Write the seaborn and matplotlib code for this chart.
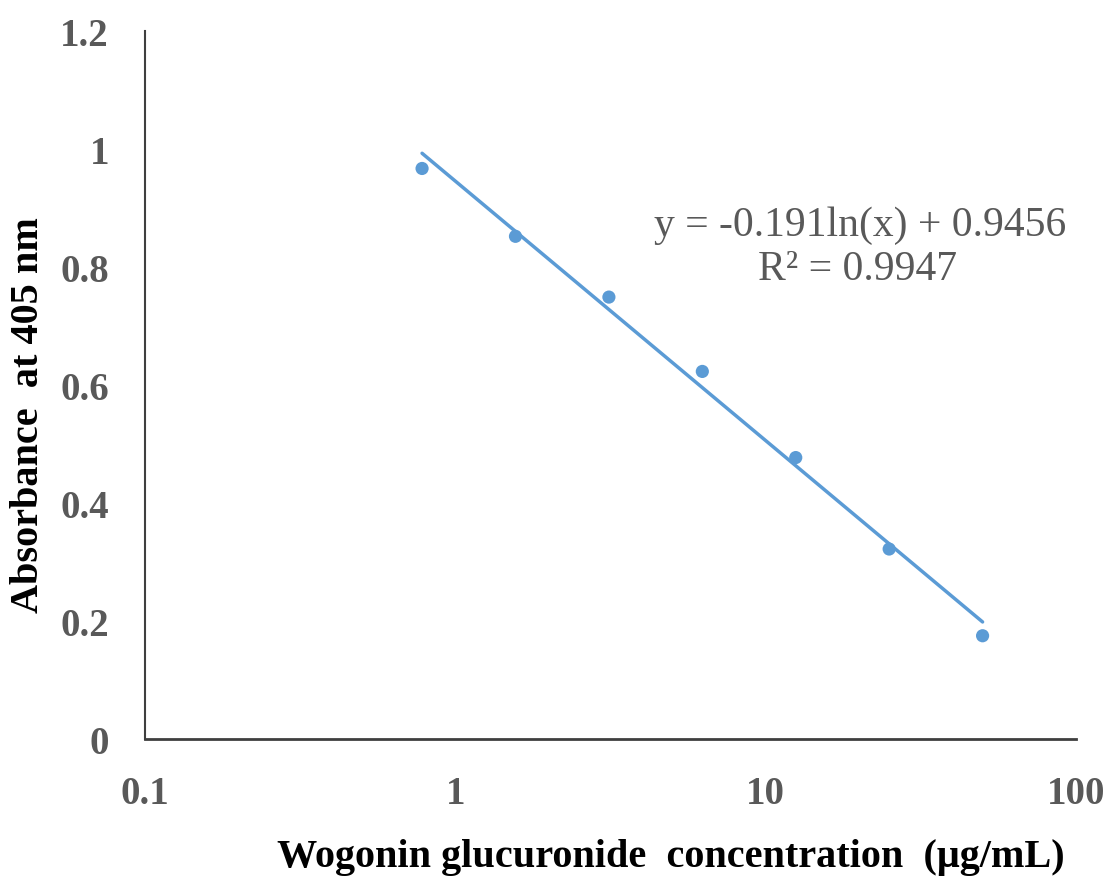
import numpy as np
import pandas as pd
import matplotlib
matplotlib.use("Agg")
import matplotlib.pyplot as plt
import seaborn as sns

# Data
concentration = [0.78125, 1.5625, 3.125, 6.25, 12.5, 25, 50]
absorbance = [0.967, 0.852, 0.749, 0.623, 0.477, 0.322, 0.175]
fit_slope = -0.191
fit_intercept = 0.9456
x_ticks = [0.1, 1, 10, 100]
x_tick_labels = ["0.1", "1", "10", "100"]
y_ticks = [0, 0.2, 0.4, 0.6, 0.8, 1.0, 1.2]
y_tick_labels = ["0", "0.2", "0.4", "0.6", "0.8", "1", "1.2"]
equation_text = "y = -0.191ln(x) + 0.9456"
r2_text = "R² = 0.9947"
x_label = "Wogonin glucuronide  concentration  (μg/mL)"
y_label = "Absorbance  at 405 nm"

sns.set_style("ticks")
plt.rcParams["font.family"] = ["Liberation Serif", "DejaVu Serif"]

blue = "#5B9BD5"
grey = "#595959"

fig = plt.figure(figsize=(11.1, 8.79), dpi=100)
ax = fig.add_axes([145 / 1110, 1 - 740 / 879, 931 / 1110, 708 / 879])

df = pd.DataFrame({"conc": concentration, "abs": absorbance})
x_fit = np.geomspace(min(concentration), max(concentration), 100)
fit_df = pd.DataFrame({"conc": x_fit, "abs": fit_slope * np.log(x_fit) + fit_intercept})

sns.lineplot(data=fit_df, x="conc", y="abs", ax=ax, color=blue, linewidth=2.5, zorder=2)
sns.scatterplot(data=df, x="conc", y="abs", ax=ax, color=blue, s=90, edgecolor="none", zorder=3)

ax.set_xscale("log")
ax.set_xlim(0.1, 100)
ax.set_ylim(0, 1.2)
ax.set_xticks(x_ticks)
ax.set_xticklabels(x_tick_labels)
ax.set_yticks(y_ticks)
ax.set_yticklabels(y_tick_labels)
ax.xaxis.set_minor_locator(matplotlib.ticker.NullLocator())
ax.tick_params(axis="both", length=0, labelsize=28, colors=grey, pad=26)
for lab in ax.get_xticklabels() + ax.get_yticklabels():
    lab.set_fontweight("bold")

for s in ["top", "right"]:
    ax.spines[s].set_visible(False)
ax.spines["left"].set_color("#3f3f3f")
ax.spines["left"].set_linewidth(1.5)
ax.spines["bottom"].set_color("#3f3f3f")
ax.spines["bottom"].set_linewidth(2.0)

ax.set_xlabel(x_label, fontsize=29, fontweight="bold", color="black", va="center")
ax.xaxis.set_label_coords((671 - 145) / 931, (740 - 857) / 708)
ax.set_ylabel(y_label, fontsize=29, fontweight="bold", color="black", va="center")
ax.yaxis.set_label_coords((28 - 145) / 931, (740 - 415) / 708)

ax.text((860 - 145) / 931, (740 - 226) / 708, equation_text, transform=ax.transAxes,
        ha="center", va="center", fontsize=30, color=grey)
ax.text((858 - 145) / 931, (740 - 270) / 708, r2_text, transform=ax.transAxes,
        ha="center", va="center", fontsize=30, color=grey)

fig.savefig("out.png", dpi=100)
